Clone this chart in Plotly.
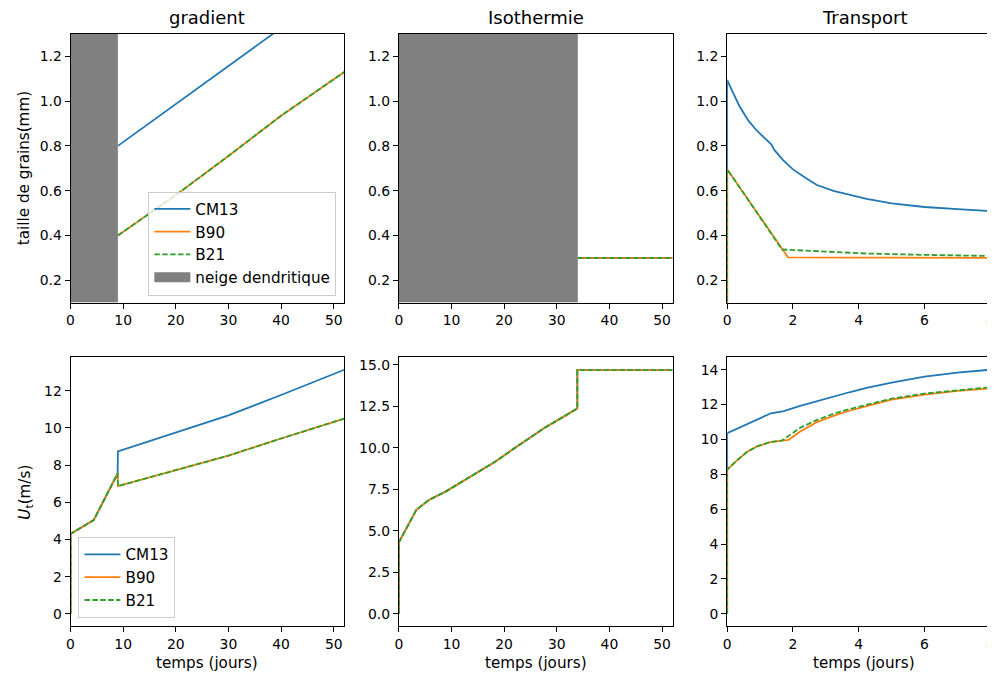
import plotly.graph_objects as go

# ---------------- DATA ----------------
# Panel "gradient" : taille de grains (mm)
grad_size_t = [9, 20, 30, 40, 52]
grad_size_cm13 = [0.80, 0.987, 1.157, 1.327, 1.531]
grad_size_b90 = [0.40, 0.58, 0.755, 0.935, 1.13]
grad_size_b21 = [0.40, 0.58, 0.755, 0.935, 1.13]

# Panel "Isothermie" : taille de grains (mm)
iso_size_t = [34, 52]
iso_size_cm13 = [0.30, 0.30]
iso_size_b90 = [0.30, 0.30]
iso_size_b21 = [0.30, 0.30]

# Panel "Transport" : taille de grains (mm)
tr_size_t_cm13 = [0, 0, 0.17, 0.38, 0.64, 0.89, 1.34, 1.44, 1.70, 2.0, 2.40, 2.73, 3.23, 3.74, 4.24, 5, 6, 7, 8]
tr_size_cm13 = [0, 1.095, 1.04, 0.976, 0.914, 0.870, 0.807, 0.781, 0.736, 0.695, 0.655, 0.625, 0.599, 0.581, 0.563, 0.543, 0.527, 0.517, 0.509]
tr_size_t_b90 = [0, 0, 1.85, 8]
tr_size_b90 = [0, 0.696, 0.302, 0.30]
tr_size_t_b21 = [0, 0, 1.67, 3, 4.24, 6, 8]
tr_size_b21 = [0, 0.696, 0.337, 0.326, 0.319, 0.313, 0.308]

# Periods of dendritic snow (days) : start, end
dendritic_grad = [0, 9]
dendritic_iso = [0, 34]

# Panel "gradient" : Ut (m/s)
grad_u_t = [0, 0, 4.4, 8.95, 9.0, 20, 30, 40, 52]
grad_u_cm13 = [0, 4.3, 5.04, 7.55, 8.74, 9.75, 10.68, 11.77, 13.13]
grad_u_b90 = [0, 4.3, 5.04, 7.55, 6.87, 7.72, 8.51, 9.43, 10.5]
grad_u_b21 = [0, 4.3, 5.04, 7.55, 6.87, 7.72, 8.51, 9.43, 10.5]

# Panel "Isothermie" : Ut (m/s)
iso_u_t = [0, 0, 3.33, 5.72, 8.87, 12.0, 15.16, 18.3, 21.45, 24.6, 27.7, 30.9, 33.9, 33.9, 52]
iso_u_cm13 = [0, 4.3, 6.26, 6.86, 7.36, 7.96, 8.54, 9.16, 9.86, 10.56, 11.2, 11.8, 12.36, 14.67, 14.67]
iso_u_b90 = list(iso_u_cm13)
iso_u_b21 = list(iso_u_cm13)

# Panel "Transport" : Ut (m/s)
tr_u_t_cm13 = [0, 0, 1.33, 1.72, 2.22, 2.73, 3.23, 3.74, 4.24, 5, 6, 7, 8]
tr_u_cm13 = [0, 10.36, 11.50, 11.62, 11.92, 12.19, 12.48, 12.72, 12.95, 13.26, 13.6, 13.83, 14.0]
tr_u_t_b90 = [0, 0, 0.3, 0.6, 0.91, 1.31, 1.87, 2.22, 2.73, 3.23, 3.74, 4.24, 5, 6, 7, 8]
tr_u_b90 = [0, 8.27, 8.8, 9.28, 9.6, 9.85, 9.98, 10.46, 10.99, 11.35, 11.66, 11.9, 12.29, 12.57, 12.78, 12.93]
tr_u_t_b21 = [0, 0, 0.3, 0.6, 0.91, 1.31, 1.67, 2.22, 2.73, 3.23, 3.74, 4.24, 5, 6, 7, 8]
tr_u_b21 = [0, 8.27, 8.8, 9.28, 9.6, 9.85, 9.94, 10.67, 11.12, 11.47, 11.75, 12.0, 12.34, 12.63, 12.82, 12.99]

series_names = ["CM13", "B90", "B21"]
panel_titles = ["gradient", "Isothermie", "Transport"]
xlabel = "temps (jours)"
ylabel_top = "taille de grains(mm)"
ylabel_bottom = "<i>U</i><sub>t</sub>(m/s)"
dendritic_label = "neige dendritique"

# ---------------- STYLE ----------------
OFF = 8                      # page body margin
W, H = 995 - OFF, 673 - OFF  # figure size so it fills the window
FONT = "DejaVu Sans"
colors = ["#1f77b4", "#ff7f0e", "#2ca02c"]
dashes = ["solid", "solid", "5.5px,2.4px"]
LW = 1.8
SIZE_RANGE = [0.1, 1.3]
TICK_FS = 13.9
LABEL_FS = 15.2
TITLE_FS = 18
GRAY = "#808080"

cols_px = [(67, 343), (398, 674), (729, 994.5)]
title_cx = [205, 536, 867]
rows_px = [(33, 302), (357, 626)]


def px_x(x):
    return (x - OFF) / W


def px_y(y):
    return 1 - (y - OFF) / H


def xd(a, b):
    return [px_x(a), min(px_x(b), 1.0)]


def yd(a, b):
    return [px_y(b), px_y(a)]


fig = go.Figure()

panels = [
    (1, [(grad_size_t, grad_size_cm13), (grad_size_t, grad_size_b90), (grad_size_t, grad_size_b21)], "legend"),
    (2, [(iso_size_t, iso_size_cm13), (iso_size_t, iso_size_b90), (iso_size_t, iso_size_b21)], None),
    (3, [(tr_size_t_cm13, tr_size_cm13), (tr_size_t_b90, tr_size_b90), (tr_size_t_b21, tr_size_b21)], None),
    (4, [(grad_u_t, grad_u_cm13), (grad_u_t, grad_u_b90), (grad_u_t, grad_u_b21)], "legend2"),
    (5, [(iso_u_t, iso_u_cm13), (iso_u_t, iso_u_b90), (iso_u_t, iso_u_b21)], None),
    (6, [(tr_u_t_cm13, tr_u_cm13), (tr_u_t_b90, tr_u_b90), (tr_u_t_b21, tr_u_b21)], None),
]

for idx, series, leg in panels:
    xa = "x" if idx == 1 else f"x{idx}"
    ya = "y" if idx == 1 else f"y{idx}"
    for k, (t, v) in enumerate(series):
        fig.add_trace(go.Scatter(
            x=t, y=v, mode="lines", name=series_names[k],
            line=dict(color=colors[k], width=LW, dash=dashes[k]),
            xaxis=xa, yaxis=ya,
            showlegend=leg is not None,
            legend=leg if leg else "legend",
            hoverinfo="skip",
        ))
    if idx in (1, 2):
        d = dendritic_grad if idx == 1 else dendritic_iso
        fig.add_trace(go.Scatter(
            x=[d[0], d[1], d[1], d[0], d[0]],
            y=[SIZE_RANGE[0], SIZE_RANGE[0], SIZE_RANGE[1], SIZE_RANGE[1], SIZE_RANGE[0]],
            mode="none", fill="toself", fillcolor=GRAY,
            name=dendritic_label, xaxis=xa, yaxis=ya,
            legendgroup="dendritic", showlegend=False, hoverinfo="skip",
        ))

# legend entry (patch) for the dendritic-snow shading
fig.add_trace(go.Scatter(
    x=[None], y=[None], mode="lines", name=dendritic_label,
    line=dict(color=GRAY, width=14), legendgroup="dendritic",
    showlegend=True, legend="legend", hoverinfo="skip",
))

axis_common = dict(
    showline=True, mirror=True, linecolor="black", linewidth=1,
    ticks="outside", ticklen=5, tickwidth=1, tickcolor="black",
    showgrid=False, zeroline=False,
    tickfont=dict(family=FONT, size=TICK_FS, color="black"),
)

xranges = [[0, 52], [0, 52], [0, 8.005]]
xdticks = [10, 10, 2]
yranges_bottom = [[-0.66, 13.79], [-0.735, 15.435], [-0.7, 14.7]]
ydticks_bottom = [2, 2.5, 2]
yfmt_bottom = ["d", ".1f", "d"]

layout = {}
for r in range(2):
    for c in range(3):
        idx = r * 3 + c + 1
        xk = "xaxis" if idx == 1 else f"xaxis{idx}"
        yk = "yaxis" if idx == 1 else f"yaxis{idx}"
        xa_anchor = "y" if idx == 1 else f"y{idx}"
        ya_anchor = "x" if idx == 1 else f"x{idx}"
        layout[xk] = dict(axis_common, domain=xd(*cols_px[c]), anchor=xa_anchor,
                          range=xranges[c], dtick=xdticks[c], tick0=0,
                          ticklabeloverflow="allow")
        if r == 0:
            layout[yk] = dict(axis_common, domain=yd(*rows_px[r]), anchor=ya_anchor,
                              range=SIZE_RANGE, tick0=0.2, dtick=0.2, tickformat=".1f")
        else:
            layout[yk] = dict(axis_common, domain=yd(*rows_px[r]), anchor=ya_anchor,
                              range=yranges_bottom[c], tick0=0, dtick=ydticks_bottom[c],
                              tickformat=yfmt_bottom[c])

annotations = []
for c in range(3):
    cx = title_cx[c]
    annotations.append(dict(
        text=panel_titles[c], x=px_x(cx), y=px_y(17), xref="paper", yref="paper",
        xanchor="center", yanchor="middle", showarrow=False,
        font=dict(family=FONT, size=TITLE_FS, color="black")))
    annotations.append(dict(
        text=xlabel, x=px_x(cx), y=px_y(663), xref="paper", yref="paper",
        xanchor="center", yanchor="middle", showarrow=False,
        font=dict(family=FONT, size=LABEL_FS, color="black")))
annotations.append(dict(
    text=ylabel_top, x=px_x(20), y=px_y((33 + 302) / 2), xref="paper", yref="paper",
    xanchor="center", yanchor="middle", textangle=-90, showarrow=False,
    font=dict(family=FONT, size=LABEL_FS, color="black")))
annotations.append(dict(
    text=ylabel_bottom, x=px_x(22), y=px_y((357 + 626) / 2), xref="paper", yref="paper",
    xanchor="center", yanchor="middle", textangle=-90, showarrow=False,
    font=dict(family=FONT, size=LABEL_FS, color="black")))

legend_style = dict(
    bgcolor="rgba(255,255,255,0.8)", bordercolor="#cccccc", borderwidth=1,
    font=dict(family=FONT, size=LABEL_FS, color="black"), itemwidth=36,
    tracegroupgap=0,
)

fig.update_layout(
    width=W, height=H,
    margin=dict(l=0, r=0, t=0, b=0),
    paper_bgcolor="white", plot_bgcolor="white",
    font=dict(family=FONT, size=TICK_FS, color="black"),
    annotations=annotations,
    legend=dict(legend_style, x=px_x(335), y=px_y(295), xanchor="right", yanchor="bottom"),
    legend2=dict(legend_style, x=px_x(75), y=px_y(618), xanchor="left", yanchor="bottom"),
    **layout,
)

fig.write_html("out.html")
